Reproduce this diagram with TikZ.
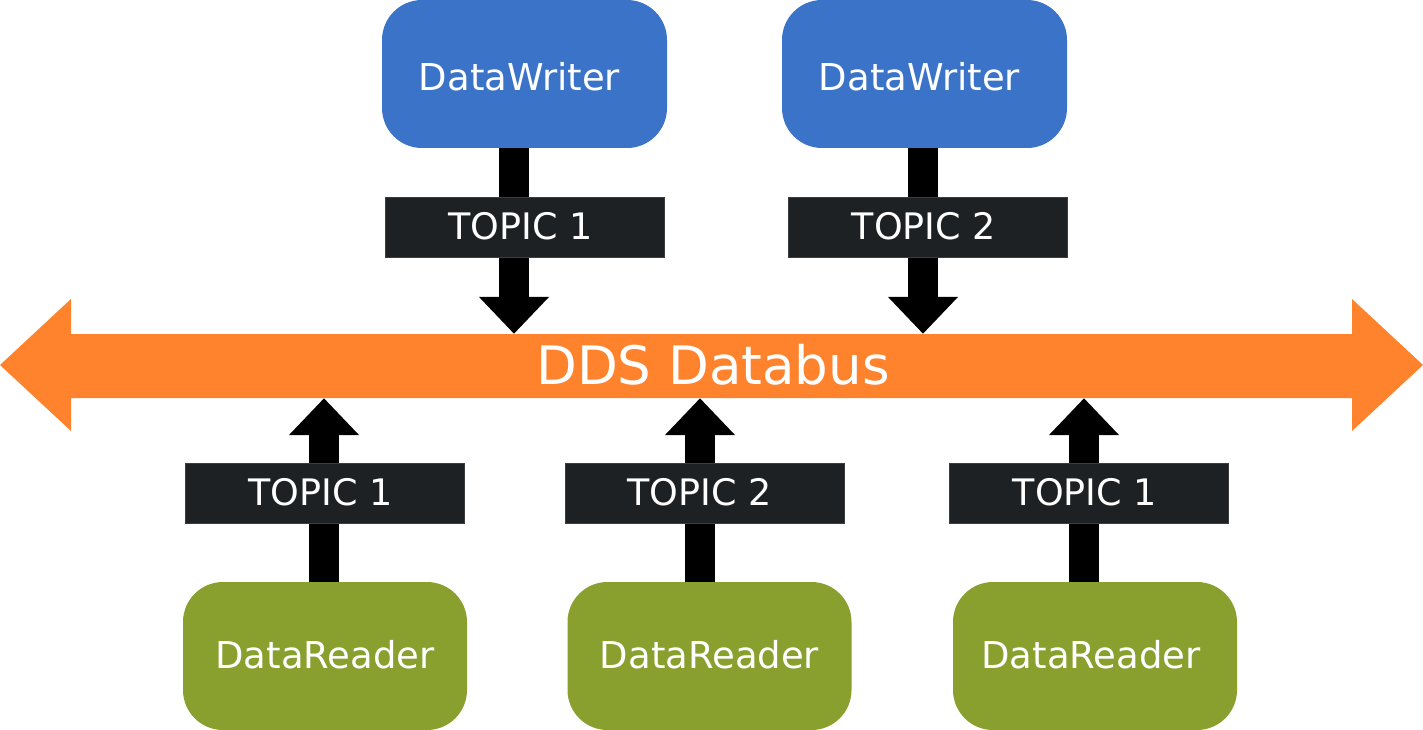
\documentclass[tikz,border=0pt]{standalone}
\usepackage{fontspec}
\setmainfont{DejaVu Sans}
\usetikzlibrary{arrows.meta,backgrounds,calc}
\definecolor{wblue}{HTML}{3A73C8}
\definecolor{busorange}{HTML}{FF832C}
\definecolor{rgreen}{HTML}{89A02E}
\definecolor{topicdark}{HTML}{1D2123}
\definecolor{topicedge}{HTML}{3A3E40}
\newcommand{\txtleft}[1]{\kern-#1pt}
\tikzset{
  writer/.style={rectangle, rounded corners=40pt, fill=wblue, text=white,
    minimum width=285pt, minimum height=148pt, inner sep=0pt,
    font=\fontsize{37pt}{44pt}\selectfont, text height=34pt, text depth=0pt},
  reader/.style={rectangle, rounded corners=40pt, fill=rgreen, text=white,
    minimum width=284pt, minimum height=148pt, inner sep=0pt,
    font=\fontsize{37pt}{44pt}\selectfont, text height=24pt, text depth=0pt},
  topic/.style={rectangle, fill=topicdark, draw=topicedge, line width=1pt, text=white,
    minimum width=279pt, minimum height=60pt, inner sep=0pt,
    font=\fontsize{36.5pt}{44pt}\selectfont, text height=24pt, text depth=0pt},
  busnode/.style={rectangle, text=white, minimum width=1281pt, minimum height=64pt,
    inner sep=0pt, font=\fontsize{53pt}{60pt}\selectfont, text height=36pt, text depth=0pt},
  flow/.style={line width=30pt, black, -{Triangle[length=37pt,width=68pt]}},
}
\begin{document}
\begin{tikzpicture}[x=1pt,y=-1pt]
\useasboundingbox (0,0) rectangle (1423,730);
% writers
\node[writer] (w1) at (524.5,74) {\txtleft{10}DataWriter};
\node[writer] (w2) at (924.5,74) {\txtleft{10}DataWriter};
% bus
\node[busnode] (bus) at (711.5,366) {\kern3pt DDS Databus};
% readers
\node[reader] (r1) at (325,656) {DataReader};
\node[reader] (r2) at (709.5,656) {DataReader};
\node[reader] (r3) at (1095,656) {\txtleft{8}DataReader};
% topics
\node[topic] (t1) at (524.5,227) {\txtleft{8}TOPIC 1};
\node[topic] (t2) at (928,227) {\txtleft{8}TOPIC 2};
\node[topic] (t3) at (324.5,493) {\txtleft{8}TOPIC 1};
\node[topic] (t4) at (704.5,493) {\txtleft{10}TOPIC 2};
\node[topic] (t5) at (1089,493) {\txtleft{8}TOPIC 1};
% arrow start points
\coordinate (s1) at ($(w1.south)+(-10.5,0)$);
\coordinate (s2) at ($(w2.south)+(-1.5,0)$);
\coordinate (s3) at ($(r1.north)+(-1,0)$);
\coordinate (s4) at ($(r2.north)+(-9.5,0)$);
\coordinate (s5) at ($(r3.north)+(-11,0)$);
\begin{scope}[on background layer]
\fill[busorange] (0,365) -- (71,299) -- (71,334) -- (1352,334) -- (1352,299)
  -- (1423,365) -- (1352,431) -- (1352,398) -- (71,398) -- (71,431) -- cycle;
\draw[flow] (s1) -- (s1 |- bus.north);
\draw[flow] (s2) -- (s2 |- bus.north);
\draw[flow] (s3) -- (s3 |- bus.south);
\draw[flow] (s4) -- (s4 |- bus.south);
\draw[flow] (s5) -- (s5 |- bus.south);
\end{scope}
\end{tikzpicture}
\end{document}
